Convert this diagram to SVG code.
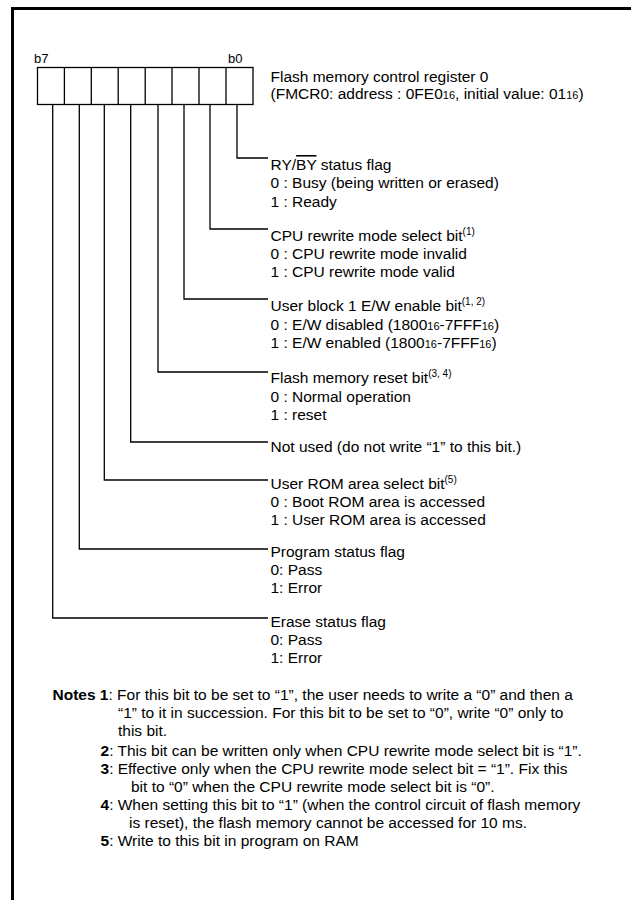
<svg xmlns="http://www.w3.org/2000/svg" width="631" height="900" viewBox="0 0 631 900">
<style>
  text { font-family: "Liberation Sans", Arial, sans-serif; font-size: 15.5px; fill: #000; }
  .lbl { font-size: 13px; }
  .sub { font-size: 11px; }
  .sup { font-size: 10px; }
  .b { font-weight: bold; }
  .frame { stroke: #000; stroke-width: 3; fill: none; }
  .reg { stroke: #000; stroke-width: 1.3; fill: #fff; }
  .conn { stroke: #000; stroke-width: 1.3; fill: none; }
</style>
<rect width="631" height="900" fill="#fff"/>
<g id="frame">
  <line class="frame" x1="11" y1="8.5" x2="631" y2="8.5"/>
  <line class="frame" x1="12.5" y1="7" x2="12.5" y2="900"/>
</g>
<g id="register">
  <text class="lbl" x="34" y="63">b7</text>
  <text class="lbl" x="228" y="63">b0</text>
  <rect class="reg" x="37.5" y="67.5" width="215.5" height="37"/>
  <path class="conn" d="M64.4 67.5V104.5M91.3 67.5V104.5M118.2 67.5V104.5M145.2 67.5V104.5M172 67.5V104.5M199 67.5V104.5M226 67.5V104.5"/>
  <text x="270.5" y="81.5">Flash memory control register 0</text>
  <text x="270.5" y="98.5">(FMCR0: address : 0FE0<tspan class="sub">16</tspan>, initial value: 01<tspan class="sub">16</tspan>)</text>
</g>
<g id="connectors">
  <path class="conn" d="M237 104.5V158H268"/>
  <path class="conn" d="M210 104.5V229H268"/>
  <path class="conn" d="M184 104.5V299H268"/>
  <path class="conn" d="M158 104.5V372H268"/>
  <path class="conn" d="M130.7 104.5V442H268"/>
  <path class="conn" d="M104.3 104.5V480H268"/>
  <path class="conn" d="M79.3 104.5V549H268"/>
  <path class="conn" d="M52.7 104.5V618H268"/>
</g>
<g id="bit0">
  <text x="270.5" y="170">RY/<tspan style="text-decoration:overline">BY</tspan> status flag</text>
  <text x="270.5" y="188.3">0 : Busy (being written or erased)</text>
  <text x="270.5" y="206.6">1 : Ready</text>
</g>
<g id="bit1">
  <text x="270.5" y="241">CPU rewrite mode select bit<tspan class="sup" dy="-6">(1)</tspan></text>
  <text x="270.5" y="259">0 : CPU rewrite mode invalid</text>
  <text x="270.5" y="277">1 : CPU rewrite mode valid</text>
</g>
<g id="bit2">
  <text x="270.5" y="311">User block 1 E/W enable bit<tspan class="sup" dy="-6">(1, 2)</tspan></text>
  <text x="270.5" y="329.5">0 : E/W disabled (1800<tspan class="sub">16</tspan>-7FFF<tspan class="sub">16</tspan>)</text>
  <text x="270.5" y="348">1 : E/W enabled (1800<tspan class="sub">16</tspan>-7FFF<tspan class="sub">16</tspan>)</text>
</g>
<g id="bit3">
  <text x="270.5" y="383.3">Flash memory reset bit<tspan class="sup" dy="-6">(3, 4)</tspan></text>
  <text x="270.5" y="401.7">0 : Normal operation</text>
  <text x="270.5" y="420">1 : reset</text>
</g>
<g id="bit4">
  <text x="270.5" y="452">Not used (do not write “1” to this bit.)</text>
</g>
<g id="bit5">
  <text x="270.5" y="488.5">User ROM area select bit<tspan class="sup" dy="-6">(5)</tspan></text>
  <text x="270.5" y="506.7">0 : Boot ROM area is accessed</text>
  <text x="270.5" y="524.5">1 : User ROM area is accessed</text>
</g>
<g id="bit6">
  <text x="270.5" y="557">Program status flag</text>
  <text x="270.5" y="575">0: Pass</text>
  <text x="270.5" y="593.3">1: Error</text>
</g>
<g id="bit7">
  <text x="270.5" y="627.3">Erase status flag</text>
  <text x="270.5" y="645.3">0: Pass</text>
  <text x="270.5" y="663.3">1: Error</text>
</g>
<g id="notes">
  <text x="52.5" y="700"><tspan class="b">Notes 1</tspan>: For this bit to be set to “1”, the user needs to write a “0” and then a</text>
  <text x="118" y="718">“1” to it in succession. For this bit to be set to “0”, write “0” only to</text>
  <text x="118" y="736">this bit.</text>
  <text x="100.5" y="756"><tspan class="b">2</tspan>: This bit can be written only when CPU rewrite mode select bit is “1”.</text>
  <text x="100.5" y="774"><tspan class="b">3</tspan>: Effective only when the CPU rewrite mode select bit = “1”. Fix this</text>
  <text x="131" y="792">bit to “0” when the CPU rewrite mode select bit is “0”.</text>
  <text x="100.5" y="810"><tspan class="b">4</tspan>: When setting this bit to “1” (when the control circuit of flash memory</text>
  <text x="129" y="828">is reset), the flash memory cannot be accessed for 10 ms.</text>
  <text x="100.5" y="846"><tspan class="b">5</tspan>: Write to this bit in program on RAM</text>
</g>
</svg>
